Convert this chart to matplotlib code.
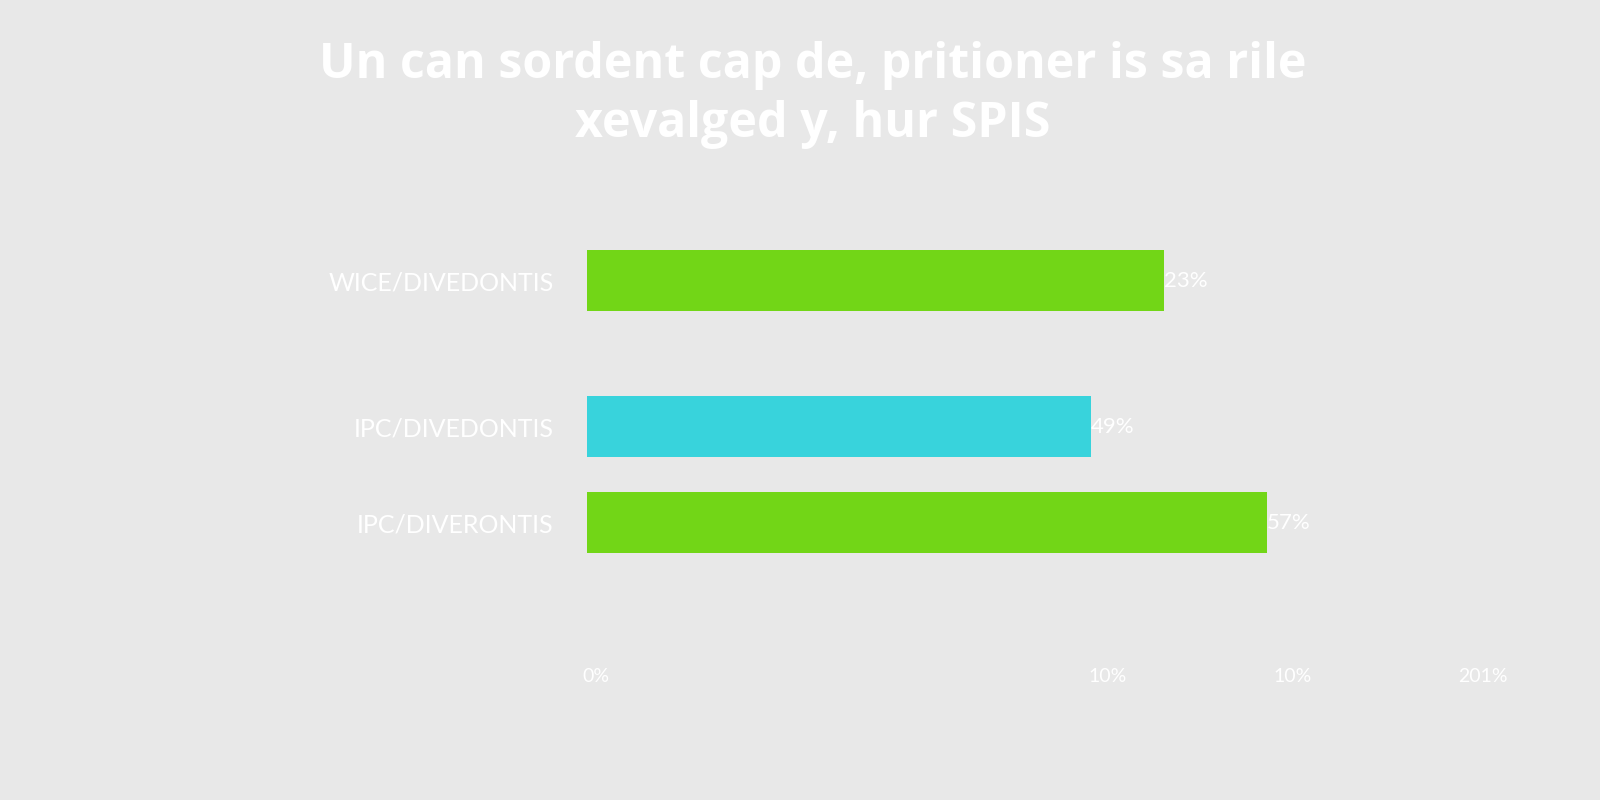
import matplotlib.pyplot as plt

# data (x in arbitrary axis units)
categories = ["WICE/DIVEDONTIS", "IPC/DIVEDONTIS", "IPC/DIVERONTIS"]
bar_lengths = [57.7, 50.4, 68.0]
value_labels = ["23%", "49%", "57%"]
y_positions = [2.52, 1.0, 0.0]
bar_colors = ["#72d617", "#38d3dc", "#72d617"]
tick_values = [0.9, 52.1, 70.6, 89.6]
tick_labels = ["0%", "10%", "10%", "201%"]
title = "Un can sordent cap de, pritioner is sa rile\nxevalged y, hur SPIS"

bg = "#e8e8e8"
plt.rcParams['font.family'] = ['Lato', 'DejaVu Sans']

fig = plt.figure(figsize=(16, 8), dpi=100, facecolor=bg)
ax = fig.add_axes([587 / 1600, 0.2, 953 / 1600, 0.55])
ax.set_facecolor(bg)

ax.barh(y_positions, bar_lengths, height=0.64, color=bar_colors)
for v, y, lab in zip(bar_lengths, y_positions, value_labels):
    ax.text(v, y, lab, ha="left", va="center", color="white", fontsize=16)

ax.set_xlim(0, 95.3)
ax.set_ylim(-1.224, 3.36)
ax.set_xticks(tick_values)
ax.set_xticklabels(tick_labels, color="white", fontsize=14)
ax.set_yticks(y_positions)
ax.set_yticklabels(categories, color="white", fontsize=18)
ax.tick_params(axis="x", length=0, pad=20)
ax.tick_params(axis="y", length=0, pad=24)
for s in ax.spines.values():
    s.set_visible(False)

fig.text(0.508, 1 - 95 / 800, title, ha="center", va="center",
         color="white", fontsize=34.8, fontweight="bold", linespacing=1.28,
         family=["Open Sans", "DejaVu Sans"])

fig.savefig("out.png", dpi=100, facecolor=bg)
